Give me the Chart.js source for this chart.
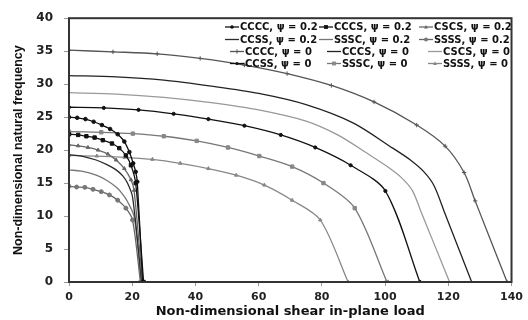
<!DOCTYPE html>
<html>
<head>
<meta charset="utf-8">
<script src="https://cdn.jsdelivr.net/npm/chart.js@4.4.1/dist/chart.umd.min.js"></script>
<style>
  html, body { margin: 0; padding: 0; background: #fff; }
  #wrap { width: 528px; height: 320px; }
</style>
</head>
<body>
<div id="wrap"><canvas id="freqChart" width="528" height="320"></canvas></div>
<script>
// boundary conditions and psi values
var boundaryNames = ["CCCC", "CCCS", "CSCS", "CCSS", "SSSC", "SSSS"];
var psiValues = ["0.2", "0"];

var xTicks = [0, 20, 40, 60, 80, 100, 120, 140];
var yTicks = [0, 5, 10, 15, 20, 25, 30, 35, 40];

// psi = 0.2 (curves collapse near load 23)
var cccc02X = [0, 2.6, 5.2, 7.8, 10.4, 13, 15.4, 17.5, 19.1, 20.3, 21.1, 21.6, 23.3];
var cccc02Y = [25.0, 24.9, 24.7, 24.3, 23.8, 23.2, 22.4, 21.3, 19.7, 18.0, 16.7, 15.2, 0];
var cccs02X = [0, 2.9, 5.5, 8.1, 10.7, 13.6, 15.9, 18, 19.6, 21.1, 23.6];
var cccs02Y = [22.4, 22.3, 22.1, 21.9, 21.5, 21.0, 20.3, 19.2, 17.7, 15.0, 0];
var cscs02X = [0, 2.9, 6, 9.2, 12.3, 14.9, 17.5, 19.6, 20.6, 23.2];
var cscs02Y = [20.8, 20.65, 20.4, 20.0, 19.4, 18.5, 17.2, 15.5, 13.9, 0];
var ccss02X = [0, 4, 8.6, 12, 14.9, 17, 18.5, 20.1, 23.0];
var ccss02Y = [19.3, 19.1, 18.5, 17.8, 17.0, 16.1, 15.0, 12.9, 0];
var sssc02X = [0, 4, 8.6, 12, 14.9, 17, 18.5, 20.6, 22.8];
var sssc02Y = [17.0, 16.8, 16.2, 15.4, 14.4, 13.3, 12.2, 9.9, 0];
var ssss02X = [0, 2.4, 5, 7.6, 10.2, 12.8, 15.4, 18, 20.1, 22.6];
var ssss02Y = [14.5, 14.4, 14.35, 14.05, 13.7, 13.2, 12.4, 11.2, 9.4, 0];

// psi = 0
var cccc0X = [0, 13.9, 27.9, 41.5, 55.5, 69, 83, 96.5, 110, 119, 125, 128.5, 138.6];
var cccc0Y = [35.15, 34.9, 34.6, 33.9, 32.9, 31.6, 29.8, 27.3, 23.8, 20.6, 16.6, 12.3, 0];
var cccs0X = [0, 15, 30, 45, 60, 75, 90, 102.4, 108, 112.3, 115.5, 119, 127.4];
var cccs0Y = [31.3, 31.1, 30.6, 29.7, 28.6, 26.9, 24.1, 20.3, 18.5, 16.7, 14.6, 10.3, 0];
var cscs0X = [0, 15, 30, 45, 60, 75, 85, 95, 101, 105, 108.6, 111.5, 120.4];
var cscs0Y = [28.7, 28.5, 28.0, 27.2, 26.1, 24.4, 22.3, 19.3, 17.4, 15.9, 13.9, 10.5, 0];
var ccss0X = [0, 11, 22, 33.1, 44.1, 55.5, 67, 77.9, 89.1, 100.1, 111];
var ccss0Y = [26.5, 26.4, 26.1, 25.5, 24.7, 23.7, 22.3, 20.4, 17.7, 13.8, 0];
var sssc0X = [0, 10.2, 20.2, 30, 40.4, 50.3, 60.2, 70.6, 80.5, 90.4, 100.6];
var sssc0Y = [22.8, 22.7, 22.5, 22.1, 21.4, 20.4, 19.1, 17.5, 15.0, 11.2, 0];
var ssss0X = [0, 8.8, 17.6, 26.4, 35.2, 44.1, 52.9, 61.8, 70.6, 79.5, 88.3];
var ssss0Y = [19.2, 19.1, 18.9, 18.6, 18.0, 17.2, 16.2, 14.7, 12.4, 9.4, 0];

var xTitle = "Non-dimensional shear in-plane load";
var yTitle = "Non-dimensional natural frequency";

function toPoints(xs, ys) {
  var pts = [];
  for (var i = 0; i < xs.length; i++) {
    pts.push({ x: xs[i], y: ys[i] });
  }
  return pts;
}

function makeSet(name, psi, xs, ys, color, style, radius, fill) {
  return {
    label: name + ", \u03c8 = " + psi,
    data: toPoints(xs, ys),
    borderColor: color,
    backgroundColor: fill || color,
    pointBackgroundColor: fill || color,
    pointBorderColor: fill || color,
    borderWidth: 1.3,
    pointStyle: style,
    pointRadius: radius,
    pointBorderWidth: 1,
    fill: false
  };
}

var datasets = [
  makeSet(boundaryNames[0], psiValues[0], cccc02X, cccc02Y, "#111", "circle", 1.8),
  makeSet(boundaryNames[1], psiValues[0], cccs02X, cccs02Y, "#111", "rect", 2.4),
  makeSet(boundaryNames[2], psiValues[0], cscs02X, cscs02Y, "#666", "triangle", 2),
  makeSet(boundaryNames[3], psiValues[0], ccss02X, ccss02Y, "#2a2a2a", "circle", 0),
  makeSet(boundaryNames[4], psiValues[0], sssc02X, sssc02Y, "#777", "circle", 0),
  makeSet(boundaryNames[5], psiValues[0], ssss02X, ssss02Y, "#666", "circle", 2, "#777"),
  makeSet(boundaryNames[0], psiValues[1], cccc0X, cccc0Y, "#555", "cross", 2.2),
  makeSet(boundaryNames[1], psiValues[1], cccs0X, cccs0Y, "#222", "circle", 0),
  makeSet(boundaryNames[2], psiValues[1], cscs0X, cscs0Y, "#999", "circle", 0),
  makeSet(boundaryNames[3], psiValues[1], ccss0X, ccss0Y, "#111", "circle", 1.6),
  makeSet(boundaryNames[4], psiValues[1], sssc0X, sssc0Y, "#777", "rect", 2.4, "#888"),
  makeSet(boundaryNames[5], psiValues[1], ssss0X, ssss0Y, "#888", "triangle", 2)
];

function drawMarker(ctx, style, x, y, r, fill, stroke) {
  ctx.save();
  ctx.fillStyle = fill;
  ctx.strokeStyle = stroke;
  ctx.lineWidth = 1;
  ctx.beginPath();
  if (style === "circle") {
    ctx.arc(x, y, r, 0, Math.PI * 2);
    ctx.fill();
  } else if (style === "rect") {
    ctx.rect(x - r * 0.8, y - r * 0.8, r * 1.6, r * 1.6);
    ctx.fill();
  } else if (style === "triangle") {
    ctx.moveTo(x, y - r);
    ctx.lineTo(x + r, y + r * 0.7);
    ctx.lineTo(x - r, y + r * 0.7);
    ctx.closePath();
    ctx.fill();
  } else if (style === "cross") {
    ctx.moveTo(x - r, y); ctx.lineTo(x + r, y);
    ctx.moveTo(x, y - r); ctx.lineTo(x, y + r);
    ctx.stroke();
  }
  ctx.restore();
}

var legendTextTop = [240, 334, 434];
var legendTextBottom = [245, 342, 443];
var legendRowY = [27, 39.5, 51.5, 63.5];

var legendPlugin = {
  id: "plateLegend",
  afterDraw: function (chart) {
    var ctx = chart.ctx;
    ctx.save();
    ctx.font = "bold 10px 'DejaVu Sans'";
    ctx.textBaseline = "middle";
    chart.data.datasets.forEach(function (ds, i) {
      var row = Math.floor(i / 3);
      var col = i % 3;
      var tx = (row < 2 ? legendTextTop : legendTextBottom)[col];
      var ty = legendRowY[row];
      ctx.strokeStyle = ds.borderColor;
      ctx.lineWidth = ds.borderWidth;
      ctx.beginPath();
      ctx.moveTo(tx - 15, ty);
      ctx.lineTo(tx - 1, ty);
      ctx.stroke();
      if (ds.pointRadius > 0) {
        drawMarker(ctx, ds.pointStyle, tx - 8, ty, ds.pointRadius, ds.pointBackgroundColor, ds.borderColor);
      }
      ctx.fillStyle = "#111";
      ctx.fillText(ds.label, tx, ty + 0.5);
    });
    ctx.restore();
  }
};

var framePlugin = {
  id: "frame",
  afterDatasetsDraw: function (chart) {
    var a = chart.chartArea;
    var ctx = chart.ctx;
    ctx.save();
    ctx.strokeStyle = "#333";
    ctx.lineWidth = 2;
    ctx.strokeRect(a.left, a.top, a.right - a.left, a.bottom - a.top);
    ctx.restore();
  }
};

var ctx = document.getElementById("freqChart").getContext("2d");
var chart = new Chart(ctx, {
  type: "line",
  data: { datasets: datasets },
  options: {
    responsive: false,
    animation: false,
    layout: { padding: { top: 18, right: 11, left: 0, bottom: 0 } },
    elements: { line: { tension: 0.3 } },
    plugins: {
      legend: { display: false },
      tooltip: { enabled: false }
    },
    scales: {
      x: {
        type: "linear",
        min: 0,
        max: 140,
        afterBuildTicks: function (s) {
          s.ticks = xTicks.map(function (v) { return { value: v }; });
        },
        ticks: {
          font: { family: "'DejaVu Sans'", size: 11, weight: "bold" },
          color: "#222",
          padding: 5,
          maxRotation: 0
        },
        grid: { drawOnChartArea: false, tickLength: 4, color: "#999" },
        border: { display: false },
        title: {
          display: true,
          text: xTitle,
          font: { family: "'DejaVu Sans'", size: 13, weight: "bold" },
          color: "#111",
          padding: { top: 0, bottom: 1 }
        },
        afterFit: function (s) { s.height = 38; }
      },
      y: {
        min: 0,
        max: 40,
        afterBuildTicks: function (s) {
          s.ticks = yTicks.map(function (v) { return { value: v }; });
        },
        ticks: {
          font: { family: "'DejaVu Sans'", size: 12, weight: "bold" },
          color: "#222",
          padding: 11
        },
        grid: { drawOnChartArea: false, tickLength: 5, color: "#999" },
        border: { display: false },
        title: {
          display: true,
          text: yTitle,
          font: { family: "'Liberation Sans'", size: 12.5, weight: "bold" },
          color: "#111",
          padding: { top: 11, bottom: 0 }
        },
        afterFit: function (s) { s.width = 69; }
      }
    }
  },
  plugins: [legendPlugin, framePlugin]
});
</script>
</body>
</html>
